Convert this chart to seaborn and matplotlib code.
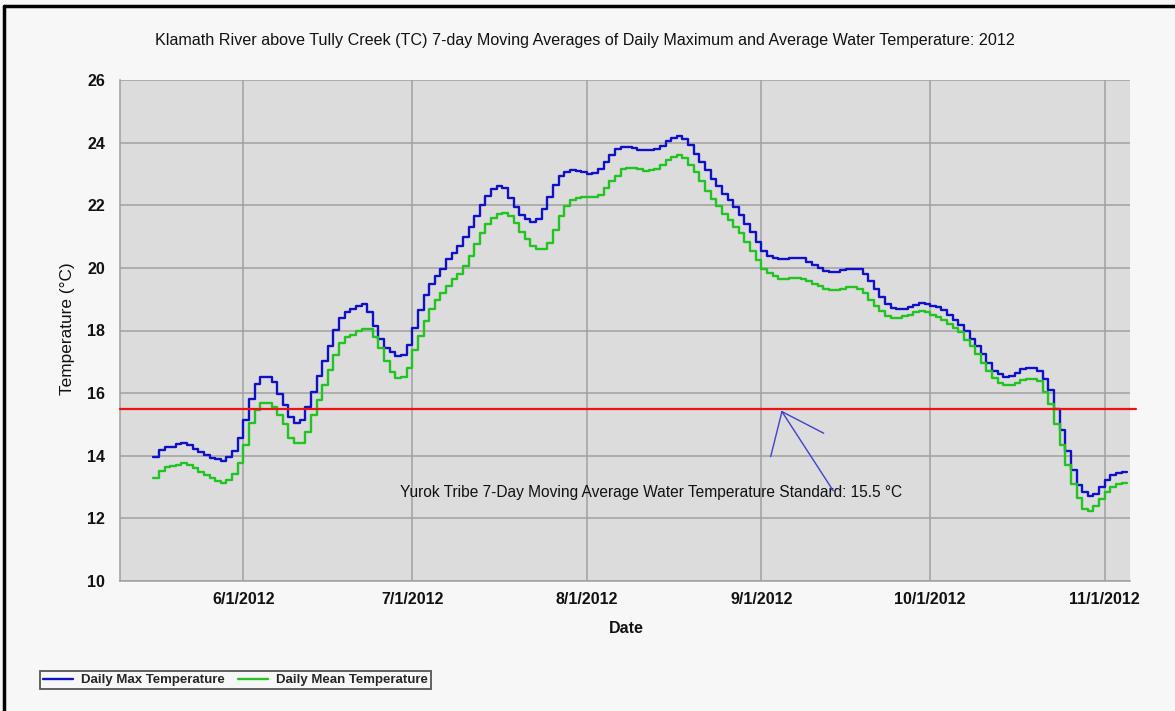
import matplotlib
matplotlib.use("Agg")
import matplotlib.pyplot as plt
import matplotlib.dates as mdates
from matplotlib.lines import Line2D
import pandas as pd
import seaborn as sns

# daily 7-day moving averages, one value per day starting 2012-05-16
start_date = "2012-05-16"
max_temp = [
    13.97, 14.19, 14.27, 14.29, 14.38, 14.42, 14.34, 14.22, 14.13, 14.03,
    13.92, 13.89, 13.84, 13.97, 14.16, 14.56, 15.15, 15.81, 16.30, 16.52,
    16.52, 16.35, 15.98, 15.63, 15.25, 15.06, 15.15, 15.55, 16.02, 16.55,
    17.04, 17.51, 18.03, 18.40, 18.58, 18.69, 18.77, 18.85, 18.58, 18.13,
    17.73, 17.44, 17.30, 17.19, 17.22, 17.54, 18.07, 18.66, 19.14, 19.49,
    19.75, 19.96, 20.28, 20.47, 20.69, 20.99, 21.31, 21.67, 22.02, 22.29,
    22.52, 22.61, 22.55, 22.23, 21.95, 21.70, 21.56, 21.46, 21.56, 21.88,
    22.27, 22.66, 22.93, 23.06, 23.14, 23.09, 23.06, 23.01, 23.03, 23.16,
    23.37, 23.59, 23.79, 23.86, 23.86, 23.83, 23.78, 23.76, 23.76, 23.79,
    23.89, 24.04, 24.15, 24.20, 24.13, 23.91, 23.65, 23.38, 23.12, 22.85,
    22.62, 22.37, 22.16, 21.95, 21.70, 21.41, 21.13, 20.83, 20.53, 20.38,
    20.32, 20.28, 20.28, 20.30, 20.32, 20.30, 20.19, 20.08, 20.00, 19.89,
    19.86, 19.86, 19.93, 19.98, 19.98, 19.95, 19.79, 19.57, 19.33, 19.07,
    18.86, 18.72, 18.68, 18.68, 18.75, 18.82, 18.88, 18.86, 18.79, 18.75,
    18.66, 18.50, 18.34, 18.18, 17.97, 17.72, 17.49, 17.25, 16.97, 16.72,
    16.60, 16.53, 16.54, 16.65, 16.76, 16.81, 16.81, 16.72, 16.46, 16.09,
    15.50, 14.83, 14.15, 13.53, 13.05, 12.84, 12.70, 12.79, 13.00, 13.21,
    13.37, 13.45, 13.48, 13.48,
]
mean_temp = [
    13.28, 13.52, 13.63, 13.67, 13.71, 13.78, 13.71, 13.60, 13.49, 13.38,
    13.28, 13.20, 13.13, 13.22, 13.41, 13.78, 14.35, 15.04, 15.47, 15.68,
    15.70, 15.56, 15.30, 15.00, 14.56, 14.40, 14.42, 14.77, 15.30, 15.78,
    16.27, 16.74, 17.23, 17.60, 17.80, 17.87, 17.97, 18.04, 18.04, 17.80,
    17.44, 17.01, 16.69, 16.48, 16.51, 16.79, 17.39, 17.81, 18.29, 18.69,
    18.99, 19.20, 19.41, 19.63, 19.82, 20.05, 20.37, 20.75, 21.12, 21.39,
    21.60, 21.71, 21.74, 21.65, 21.42, 21.14, 20.91, 20.71, 20.61, 20.61,
    20.80, 21.22, 21.65, 21.97, 22.18, 22.23, 22.27, 22.26, 22.27, 22.33,
    22.55, 22.78, 22.95, 23.15, 23.19, 23.19, 23.15, 23.09, 23.12, 23.15,
    23.28, 23.44, 23.54, 23.60, 23.51, 23.30, 23.06, 22.77, 22.45, 22.19,
    21.98, 21.73, 21.52, 21.31, 21.10, 20.83, 20.53, 20.24, 19.98, 19.85,
    19.74, 19.66, 19.66, 19.68, 19.68, 19.66, 19.57, 19.50, 19.42, 19.33,
    19.28, 19.28, 19.33, 19.39, 19.39, 19.33, 19.20, 18.98, 18.77, 18.61,
    18.47, 18.40, 18.40, 18.45, 18.50, 18.58, 18.61, 18.58, 18.50, 18.43,
    18.34, 18.21, 18.07, 17.94, 17.70, 17.49, 17.25, 16.97, 16.72, 16.49,
    16.32, 16.25, 16.26, 16.33, 16.42, 16.45, 16.46, 16.40, 16.03, 15.66,
    15.00, 14.33, 13.72, 13.11, 12.66, 12.31, 12.23, 12.41, 12.63, 12.84,
    13.00, 13.09, 13.13, 13.13,
]
series_names = ["Daily Max Temperature", "Daily Mean Temperature"]
standard = 15.5
y_ticks = [10, 12, 14, 16, 18, 20, 22, 24, 26]

# annotation arrow (tip, then the three free ends) as (date, temp)
arrow_tip = ("2012-09-04 16:00", 15.41)
arrow_ends = [("2012-09-02 16:00", 13.97), ("2012-09-12 02:00", 14.72),
              ("2012-09-13 19:00", 12.88)]

dates = pd.date_range(start_date, periods=len(max_temp), freq="D")
df = pd.DataFrame({
    "date": list(dates) * 2,
    "temp": max_temp + mean_temp,
    "series": [series_names[0]] * len(max_temp) + [series_names[1]] * len(mean_temp),
})

sns.set_style("white")
plt.rcParams["font.family"] = ["Liberation Sans", "DejaVu Sans"]

fig = plt.figure(figsize=(11.75, 7.11), dpi=100, facecolor="#F7F7F7")
ax = fig.add_axes([120 / 1175, 1 - 581 / 711, 1010 / 1175, 501 / 711])
ax.set_facecolor("#DCDCDC")

palette = {series_names[0]: "#1010C8", series_names[1]: "#22C422"}
sns.lineplot(data=df, x="date", y="temp", hue="series", palette=palette,
             drawstyle="steps-post", linewidth=1.7, ax=ax, legend=True)

ax.axhline(standard, color="#F01212", lw=1.6, xmax=1.006, clip_on=False, zorder=3)

# limits / ticks
ax.set_xlim(pd.Timestamp("2012-05-10 02:00"), pd.Timestamp("2012-11-05 12:00"))
ax.set_ylim(10, 26)
ax.set_yticks(y_ticks)
ax.xaxis.set_major_locator(mdates.MonthLocator())
ax.xaxis.set_major_formatter(plt.FuncFormatter(
    lambda v, p: f"{mdates.num2date(v).month}/{mdates.num2date(v).day}/{mdates.num2date(v).year}"))
ax.grid(True, color="#A0A0A0", lw=1.1)
ax.set_axisbelow(True)
for s in ["top", "right"]:
    ax.spines[s].set_visible(False)
for s in ["left", "bottom"]:
    ax.spines[s].set_color("#A0A0A0")
    ax.spines[s].set_linewidth(1.1)
ax.tick_params(axis="y", direction="out", length=8.5, color="#A0A0A0", width=1,
               labelsize=11.5, pad=2.2)
ax.tick_params(axis="x", direction="out", length=4, color="#A0A0A0", width=1,
               labelsize=11.5, pad=4)
for lab in ax.get_xticklabels() + ax.get_yticklabels():
    lab.set_fontweight("bold")
    lab.set_color("#111111")

ax.set_xlabel("Date", fontsize=11.5, fontweight="bold", color="#111111")
ax.set_ylabel("Temperature (°C)", fontsize=12.4, color="#111111")
ax.xaxis.set_label_coords(0.501, -0.08)
ax.yaxis.set_label_coords(-0.0446, 0.503)

# annotation
tip = (pd.Timestamp(arrow_tip[0]), arrow_tip[1])
for d, t in arrow_ends:
    ax.plot([tip[0], pd.Timestamp(d)], [tip[1], t], color="#4040D0", lw=1, zorder=4)
ax.text(pd.Timestamp("2012-08-12 10:00"), 12.84,
        "Yurok Tribe 7-Day Moving Average Water Temperature Standard: 15.5 °C",
        ha="center", va="center", fontsize=11.2, color="#111111")

# title
fig.text(585 / 1175, 1 - 40 / 711,
         "Klamath River above Tully Creek (TC) 7-day Moving Averages of Daily Maximum and Average Water Temperature: 2012",
         ha="center", va="center", fontsize=11.6, color="#111111")

# legend at bottom left
handles, labels = ax.get_legend_handles_labels()
ax.get_legend().remove()
leg = fig.legend(handles, labels, loc="lower left", bbox_to_anchor=(40 / 1175, 1 - 689 / 711),
                 ncol=2, frameon=True, fancybox=False, handlelength=2.3,
                 borderaxespad=0, borderpad=0.2, columnspacing=1.0, handletextpad=0.6,
                 facecolor="#F7F7F7", edgecolor="#555555", prop={"weight": "bold", "size": 9.5})
leg.get_frame().set_linewidth(1.3)
leg.get_frame().set_alpha(1)

# outer frame (top and left edges visible in the original)
fig.add_artist(Line2D([4 / 1175, 4 / 1175], [0, 1 - 6 / 711], transform=fig.transFigure,
                      color="black", lw=2.5))
fig.add_artist(Line2D([4 / 1175, 1], [1 - 6 / 711, 1 - 6 / 711], transform=fig.transFigure,
                      color="black", lw=2.5))

fig.savefig("out.png", dpi=100, facecolor=fig.get_facecolor())
